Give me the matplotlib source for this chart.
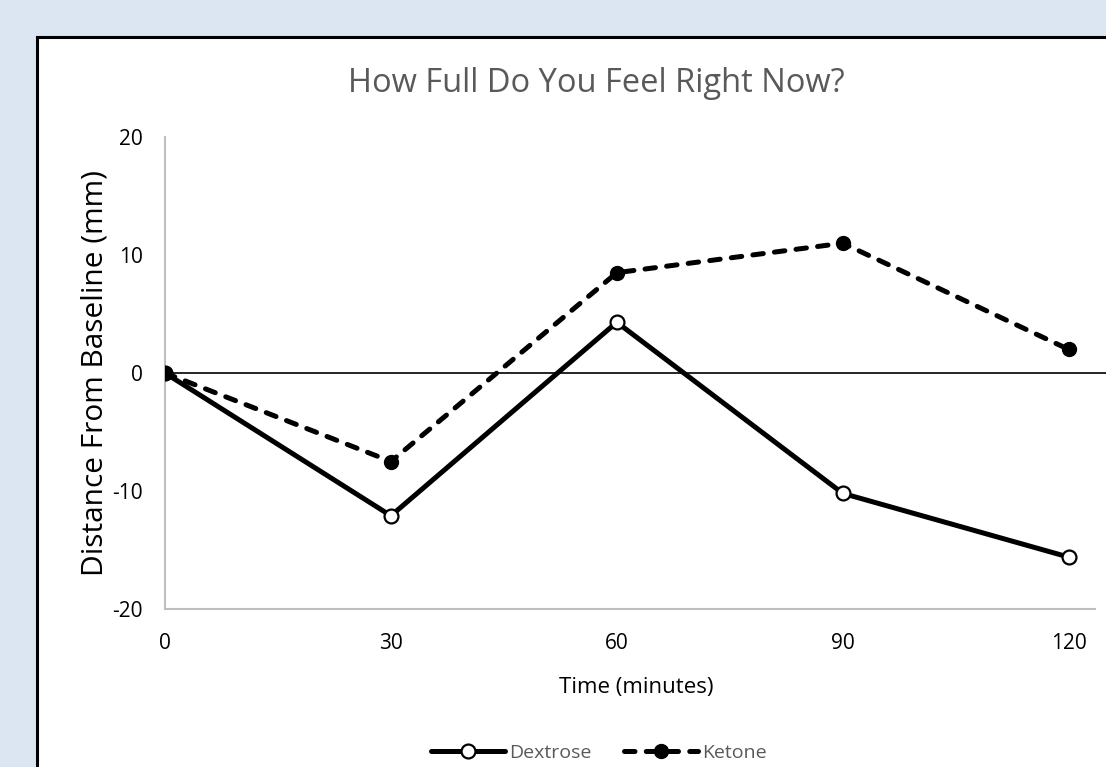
import matplotlib
matplotlib.use("Agg")
import matplotlib.pyplot as plt
from matplotlib.patches import Rectangle

# data
minutes = [0, 30, 60, 90, 120]
dextrose = [0, -12.1, 4.3, -10.2, -15.6]
ketone = [0, -7.5, 8.5, 11.0, 2.0]
x_ticks = [0, 30, 60, 90, 120]
y_ticks = [-20, -10, 0, 10, 20]

plt.rcParams['font.family'] = ['Open Sans', 'DejaVu Sans']
plt.rcParams['axes.unicode_minus'] = False

W, H = 1106, 767
fig = plt.figure(figsize=(W / 100, H / 100), dpi=100)
fig.patch.set_facecolor('#dce6f2')

# white chart box with black border (runs off the right and bottom edges)
box = Rectangle((37 / W, -0.1), 1.2, 1 - 37 / H + 0.1, transform=fig.transFigure,
                facecolor='white', edgecolor='black', linewidth=2.2, zorder=-5)
fig.patches.append(box)

ax = fig.add_axes([165 / W, 1 - 609 / H, (1095 - 165) / W, (609 - 137) / H])
ax.set_facecolor('none')

ax.plot(minutes, dextrose, color='black', lw=3.6, marker='o', ms=10,
        mfc='white', mec='black', mew=1.6, label='Dextrose', zorder=4,
        solid_capstyle='round')
ax.plot(minutes, ketone, color='black', lw=3.6, linestyle=(0, (2.1, 2.25)),
        dash_capstyle='round', marker='o', ms=10, mfc='black', mec='black',
        label='Ketone', zorder=4)

# zero reference line, runs past the plot area
ax.axhline(0, xmin=0, xmax=1.02, color='black', lw=1.2, clip_on=False, zorder=2)

ax.set_xlim(0, 123.5)
ax.set_ylim(-20, 20)
ax.set_xticks(x_ticks)
ax.set_yticks(y_ticks)
ax.tick_params(length=0, labelsize=15, colors='black')
ax.tick_params(axis='x', pad=17)
ax.tick_params(axis='y', pad=16)

for s in ['top', 'right']:
    ax.spines[s].set_visible(False)
for s in ['left', 'bottom']:
    ax.spines[s].set_color('#bfbfbf')
    ax.spines[s].set_linewidth(1.5)

ax.set_xlabel('Time (minutes)', fontsize=16, va='center')
ax.xaxis.set_label_coords((636 - 165) / 930, (609 - 687) / 472)
ax.set_ylabel('Distance From Baseline (mm)', fontsize=21.5, va='center')
ax.yaxis.set_label_coords((95 - 165) / 930, 0.5)

fig.text(596 / W, 1 - 83 / H, 'How Full Do You Feel Right Now?', ha='center',
         va='center', fontsize=23.5, color='#595959')

leg = fig.legend(loc='center', bbox_to_anchor=(599 / W, 1 - 753 / H), ncol=2,
                 frameon=False, fontsize=14, handlelength=3.8, columnspacing=1.7,
                 handletextpad=0.2)
for t in leg.get_texts():
    t.set_color('#595959')

fig.savefig('out.png', dpi=100, facecolor=fig.get_facecolor())
